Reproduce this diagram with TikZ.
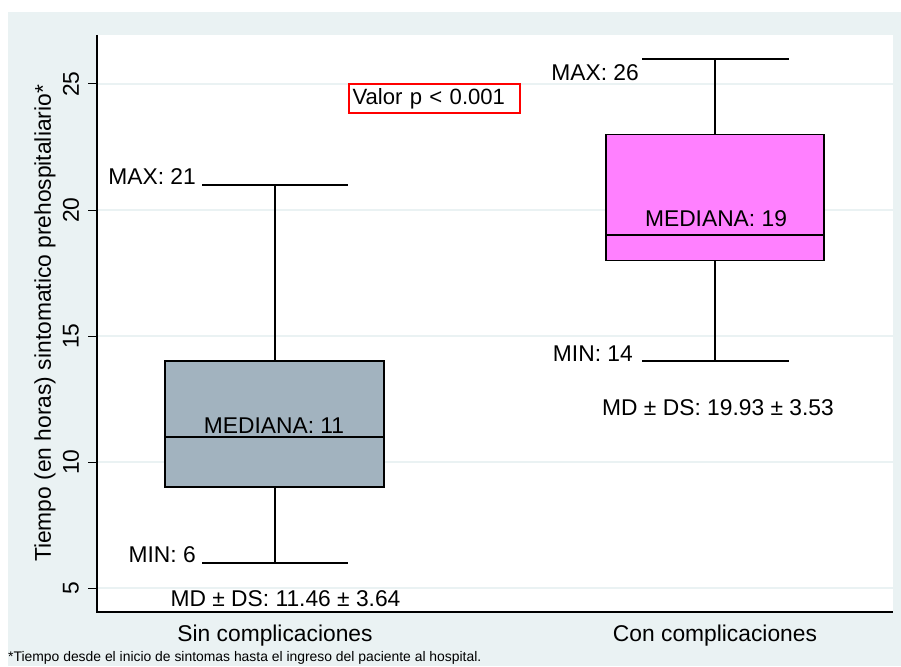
\documentclass[tikz,border=0pt]{standalone}
\usepackage{fontspec}
\setmainfont{Liberation Sans}

\definecolor{fondo}{HTML}{EAF2F3}
\definecolor{cajagris}{HTML}{A2B3BF}
\definecolor{cajarosa}{HTML}{FF80FF}

\begin{document}
\begin{tikzpicture}[x=1pt, y=-1pt,
	etiq/.style={font=\fontsize{22.8}{27}\selectfont, inner sep=0pt},
	nota/.style={font=\fontsize{13.9}{16}\selectfont, inner sep=0pt},
	linea/.style={line width=1.6pt},
	caja/.style={linea, draw=black}]
	\useasboundingbox (0,0) rectangle (901,666);
	%fondo y region del grafico
	\fill[fondo] (8,12) rectangle (901,666);
	\fill[white] (97,35) rectangle (893,612);
	\begin{scope}[shift={(0,714)}, y=25.2pt]
		\foreach \v in {5,10,15,20,25} {
			\draw[fondo, line width=1.6pt] (97,\v) -- (893,\v);
			\draw[line width=1pt] (88,\v) -- (97,\v);
			\node[etiq, rotate=90] (tick\v) at (71,\v) {\v};
		}
		% Sin complicaciones
		\draw[linea] (275,14) -- (275,21);
		\draw[linea] (275,9) -- (275,6);
		\draw[linea] (202,21) -- (348,21);
		\draw[linea] (202,6) -- (348,6);
		\filldraw[caja, fill=cajagris] (165,9) rectangle (384,14);
		\draw[linea] (165,11) -- (384,11);
		% Con complicaciones
		\draw[linea] (715,23) -- (715,26);
		\draw[linea] (715,18) -- (715,14);
		\draw[linea] (642,26) -- (789,26);
		\draw[linea] (642,14) -- (789,14);
		\filldraw[caja, fill=cajarosa] (606,18) rectangle (824,23);
		\draw[linea] (606,19) -- (824,19);
		% etiquetas
		\node[etiq, anchor=base east] (max1) at (196,21) {MAX: 21};
		\node[etiq, anchor=base east] (min1) at (196,6) {MIN: 6};
		\node[etiq, anchor=base] (med1) at (274,11.15) {MEDIANA: 11};
		\node[etiq, anchor=base] (mdds1) at (285.5,4.25) {MD ± DS: 11.46 ± 3.64};
		\node[etiq, anchor=base east] (max2) at (639,25.12) {MAX: 26};
		\node[etiq, anchor=base east] (min2) at (633,14) {MIN: 14};
		\node[etiq, anchor=base] (med2) at (716,19.33) {MEDIANA: 19};
		\node[etiq, anchor=base] (mdds2) at (718,11.83) {MD ± DS: 19.93 ± 3.53};
		\node[etiq, rotate=90] (titulo) at (45,15.5) {Tiempo (en horas) sintomatico prehospitaliario*};
	\end{scope}
	%ejes
	\draw[line width=1.4pt] (97,35) -- (97,612) -- (893,612);
	\node[draw=red, line width=1.2pt, font=\fontsize{22.1}{26}\selectfont,
		minimum width=171pt, minimum height=29pt, inner xsep=3.5pt,
		text width=164pt, align=left] (valorp) at (434.5,98.5) {Valor p < 0.001};
	\node[etiq, anchor=base] (cat1) at (275,641) {Sin complicaciones};
	\node[etiq, anchor=base] (cat2) at (715,641) {Con complicaciones};
	\node[nota, anchor=base west] (pie) at (8,661.5) {*Tiempo desde el inicio de sintomas hasta el ingreso del paciente al hospital.};
\end{tikzpicture}
\end{document}
